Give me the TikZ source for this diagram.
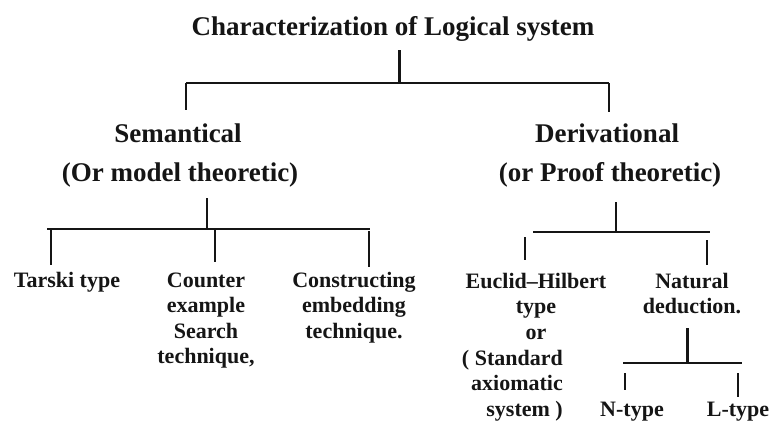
\documentclass[tikz,border=0pt]{standalone}
\usepackage{fontspec}
\setmainfont{Liberation Serif}
\definecolor{ink}{HTML}{151515}
\begin{document}
\begin{tikzpicture}[x=1pt,y=-1pt,
  lbl/.style={font=\bfseries\fontsize{22}{25.6}\selectfont, text=ink, align=center, anchor=base, inner sep=0pt},
  head/.style={font=\bfseries\fontsize{27}{30}\selectfont, text=ink, anchor=base, inner sep=0pt},
  bar/.style={draw=ink, line width=1.9pt},
  tick/.style={draw=ink, line width=2.6pt},
  thin/.style={draw=ink, line width=1.1pt}]
\useasboundingbox[fill=white] (0,0) rectangle (781,421);

% texts (multi-line nodes are placed by the baseline of their last line)
\node[head] (title) at (393,35) {Characterization of Logical system};
\node[head] (sem) at (178,142) {Semantical};
\node[head] (sem2) at (180,181) {(Or model theoretic)};
\node[head] (der) at (607,142) {Derivational};
\node[head] (der2) at (610,181) {(or Proof theoretic)};

\node[lbl] (tarski) at (67,287) {Tarski type};
\node[lbl] (counter) at (206,363.8) {Counter\\example\\Search\\technique,};
\node[lbl] (constr) at (354,338.2) {Constructing\\embedding\\technique.};
\node[lbl] (euclid) at (536,339.2) {Euclid–Hilbert\\type\\or};
\node[lbl, anchor=base east, align=right] (std) at (563,416.2) {( Standard\\axiomatic\\system )};
\node[lbl] (natural) at (692,313.6) {Natural\\deduction.};
\node[lbl] (ntype) at (632,416) {N-type};
\node[lbl] (ltype) at (738,416) {L-type};

% bracket points
\coordinate (t0) at (399,50);   \coordinate (t1) at (399,83);
\coordinate (b0) at (186,83);   \coordinate (b1) at (609,83);
\coordinate (b0d) at (186,110); \coordinate (b1d) at (609,112);

\coordinate (s0) at (207,198);  \coordinate (s1) at (207,229);
\coordinate (sL) at (47,229);   \coordinate (sR) at (370,229);
\coordinate (sa) at (51,229);   \coordinate (sad) at (51,265);
\coordinate (sb) at (215,229);  \coordinate (sbd) at (215,262);
\coordinate (sc) at (369,231);  \coordinate (scd) at (369,267);

\coordinate (d0) at (616,202);  \coordinate (d1) at (616,232);
\coordinate (dL) at (533,232);  \coordinate (dR) at (710,232);
\coordinate (da) at (525,237);  \coordinate (dad) at (525,260);
\coordinate (db) at (707,240);  \coordinate (dbd) at (707,265);

\coordinate (n0) at (687,328);  \coordinate (n1) at (687,363);
\coordinate (nL) at (623,363);  \coordinate (nR) at (742,363);
\coordinate (na) at (625,373);  \coordinate (nad) at (625,390);
\coordinate (nb) at (738,373);  \coordinate (nbd) at (738,397);

% connectors
\draw[tick, line width=3pt] (t0) -- (t1);
\draw[bar] (b0) -- (b1);
\draw[tick] (b0) -- (b0d);
\draw[tick] (b1) -- (b1d);

\draw[tick] (s0) -- (s1);
\draw[bar] (sL) -- (sR);
\draw[tick] (sa) -- (sad);
\draw[thin] (sb) -- (sbd);
\draw[tick] (sc) -- (scd);

\draw[thin, line width=1.6pt] (d0) -- (d1);
\draw[bar] (dL) -- (dR);
\draw[tick] (da) -- (dad);
\draw[tick] (db) -- (dbd);

\draw[tick, line width=3pt] (n0) -- (n1);
\draw[bar, line width=2.6pt] (nL) -- (nR);
\draw[tick] (na) -- (nad);
\draw[tick] (nb) -- (nbd);
\end{tikzpicture}
\end{document}
